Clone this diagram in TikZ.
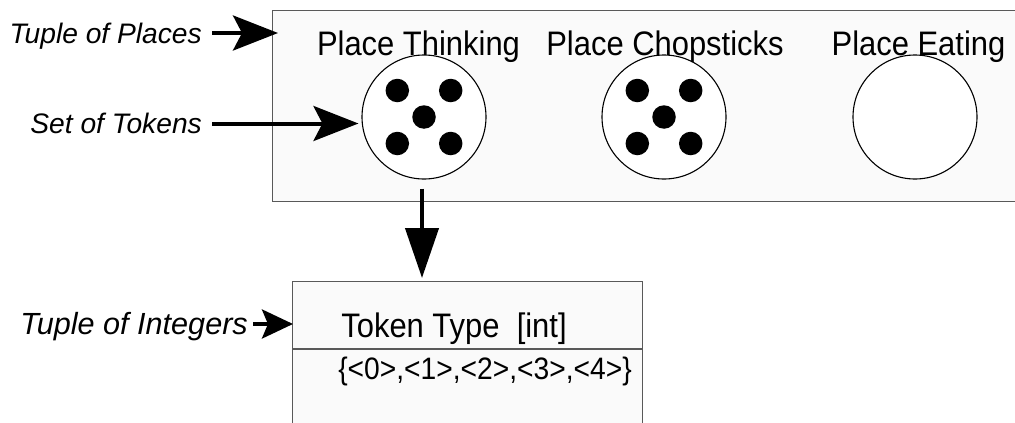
\documentclass[tikz,border=0pt]{standalone}
\usepackage{fontspec}
\setmainfont{Liberation Sans}
\newfontfamily\tallsans[FakeStretch=0.91]{Liberation Sans}
\usetikzlibrary{arrows.meta}
\begin{document}
\begin{tikzpicture}[x=1pt,y=-1pt,
  frame/.style={draw=black!65, line width=1.2pt, fill=black!2, inner sep=0pt},
  place/.style={circle, draw=black, line width=1.1pt, fill=white, minimum size=124pt, inner sep=0pt},
  token/.style={circle, fill=black, minimum size=23.5pt, inner sep=0pt},
  ptitle/.style={font=\tallsans\fontsize{34}{34}\selectfont, anchor=base, inner sep=0pt},
  lbl/.style={font=\fontsize{28.2}{28}\selectfont\itshape, anchor=east, inner sep=0pt, text height=20.2pt, text depth=0pt},
  harr/.style={line width=4pt, -{Stealth[length=45pt,width=35pt,inset=9pt]}},
  sarr/.style={line width=4pt, -{Stealth[length=31pt,width=29pt,inset=6pt]}},
  varr/.style={line width=4.3pt, -{Triangle[length=50pt,width=33pt]}}
]
\useasboundingbox (0,0) rectangle (1015,423);
\clip (0,0) rectangle (1015,423);
\fill[white] (0,0) rectangle (1015,423);

% tuple of places
\node[frame, anchor=north west, minimum width=800pt, minimum height=191pt] (big) at (272,10) {};

% places
\node[place] (th) at (424,117) {};
\node[place] (ch) at (664,117) {};
\node[place] (ea) at (915,117) {};

% tokens
\foreach \p in {th,ch}{
  \node[token] (\p1) at ([shift={(-26.7,-26.5)}]\p.center) {};
  \node[token] (\p2) at ([shift={(26.7,-26.5)}]\p.center) {};
  \node[token] (\p3) at (\p.center) {};
  \node[token] (\p4) at ([shift={(-26.7,26.5)}]\p.center) {};
  \node[token] (\p5) at ([shift={(26.7,26.5)}]\p.center) {};
}

% place titles
\node[ptitle] (tTh) at (418.5,55) {Place Thinking};
\node[ptitle] (tCh) at (665,55) {Place Chopsticks};
\node[ptitle] (tEa) at (918.5,55) {Place Eating};

% token type box
\node[frame, anchor=north west, minimum width=350pt, minimum height=170pt] (tok) at (292,281) {};
\draw[draw=black!65, line width=1.2pt] ([yshift=-68pt]tok.north west) -- ([yshift=-68pt]tok.north east);
\node[ptitle] (tokTxt) at (454,337.3) {Token Type\ \ [int]};
\node[ptitle, font=\tallsans\fontsize{31}{31}\selectfont] (valTxt) at (485,379) {\{<0>,<1>,<2>,<3>,<4>\}};

% labels
\node[lbl] (tpl) at (202,33) {Tuple of Places};
\node[lbl] (sot) at (202,123.5) {Set of Tokens};
\node[lbl, font=\fontsize{30.6}{30}\selectfont\itshape, text height=21.9pt] (toi) at (248,324) {Tuple of Integers};

% connectors
\draw[harr, shorten <=10pt, shorten >=-6pt] (tpl.east) -- (tpl.east -| big.west);
\draw[harr, shorten <=10pt, shorten >=3pt] (sot.east) -- (sot.east -| th.west);
\draw[sarr, shorten <=5pt, shorten >=-1pt] (toi.east) -- (toi.east -| tok.west);
\coordinate (vs) at ([shift={(-2,9)}]th.south);
\draw[varr, shorten >=3pt] (vs) -- (vs |- tok.north);
\end{tikzpicture}
\end{document}
